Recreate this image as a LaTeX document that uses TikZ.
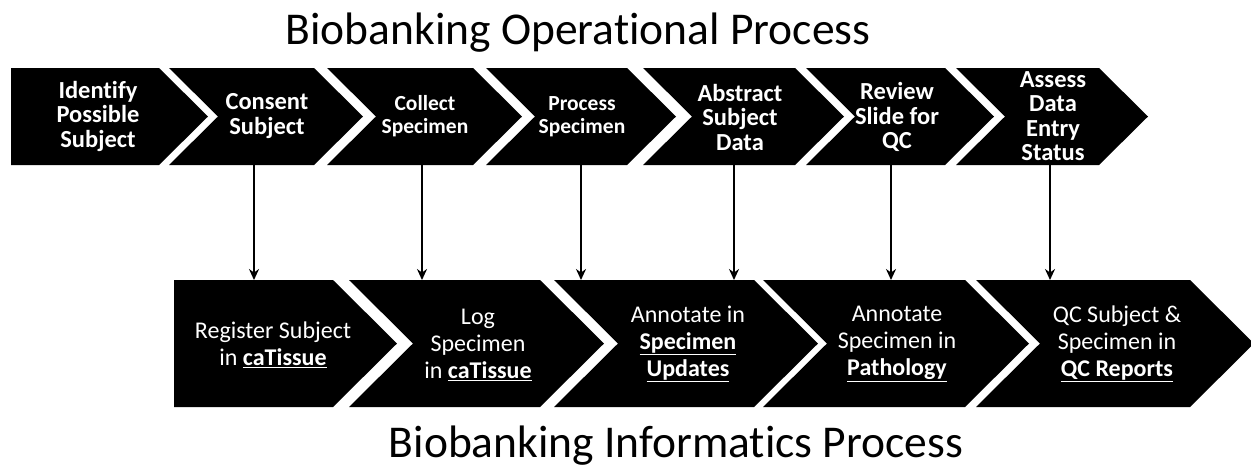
\documentclass[tikz,border=0pt]{standalone}
\usepackage{fontspec}
\setmainfont[Ligatures={NoCommon,NoContextual},Contextuals=NoAlternate]{Carlito}
\usetikzlibrary{arrows.meta}
\newcommand{\sysname}[1]{\underline{\textbf{#1}}}
\begin{document}
\begin{tikzpicture}[x=1pt,y=-1pt,
  chev/.style={fill=black,draw=none},
  toptxt/.style={text=white,align=center,font=\bfseries\fontsize{24.5}{24.5}\selectfont,inner sep=0pt},
  toptxtsm/.style={text=white,align=center,font=\bfseries\fontsize{21.5}{23}\selectfont,inner sep=0pt},
  bottxt/.style={text=white,align=center,font=\fontsize{24}{26.7}\selectfont,inner sep=0pt},
  title/.style={text=black,font=\fontsize{45.5}{50}\selectfont,inner sep=0pt,anchor=base},
  arr/.style={line width=2.3pt,-{Stealth[length=11pt,width=10pt]}}]
\useasboundingbox (0,0) rectangle (1251,467);
% ---- top row chevrons
\fill[chev] (11,68) -- (159,68) -- (208,116.5) -- (159,165) -- (11,165) -- cycle;
\foreach \n/\t in {169/314,327/473,486/627,643/795,806/945,956/1099}{
  \fill[chev] (\n,68) -- (\t,68) -- ({\t+49},116.5) -- (\t,165) -- (\n,165) -- ({\n+49},116.5) -- cycle;
}
% ---- bottom row chevrons
\fill[chev] (174,280) -- (333,280) -- (397,343.5) -- (333,407) -- (174,407) -- cycle;
\foreach \n/\t in {349/540,554/754,763/965,976/1190}{
  \fill[chev] (\n,280) -- (\t,280) -- ({\t+64},343.5) -- (\t,407) -- (\n,407) -- ({\n+64},343.5) -- cycle;
}
% ---- titles
\node[title] (ttop) at (578,44) {Biobanking Operational Process};
\node[title] (tbot) at (676,457) {Biobanking Informatics Process};
% ---- top texts
\node[toptxt] (s1) at (98,116) {Identify\\Possible\\Subject};
\node[toptxt] (s2) at (267,116) {Consent\\Subject};
\node[toptxtsm] (s3) at (425,116) {Collect\\Specimen};
\node[toptxtsm] (s4) at (582,117) {Process\\Specimen};
\node[toptxt] (s5) at (740,117) {Abstract\\Subject\\Data};
\node[toptxt] (s6) at (897,117) {Review\\Slide for\\QC};
\node[toptxt] (s7) at (1053,116) {Assess\\Data\\Entry\\Status};
% ---- bottom texts
\node[bottxt] (b1) at (273,345) {Register Subject\\in \sysname{caTissue}};
\node[bottxt] (b2) at (478,345) {Log\\Specimen\\in \sysname{caTissue}};
\node[bottxt] (b3) at (688,344) {Annotate in\\\sysname{Specimen}\\\sysname{Updates}};
\node[bottxt] (b4) at (897,344) {Annotate\\Specimen in\\\sysname{Pathology}};
\node[bottxt] (b5) at (1117,344) {QC Subject \&\\Specimen in\\\sysname{QC Reports}};
% ---- arrow endpoints
\foreach \i/\x in {1/254,2/422,3/581,4/734,5/891,6/1050}{
  \coordinate (a\i) at (\x,165);
  \coordinate (e\i) at (\x,280);
}
\foreach \i in {1,...,6}{ \draw[arr] (a\i) -- (e\i); }
\end{tikzpicture}
\end{document}
